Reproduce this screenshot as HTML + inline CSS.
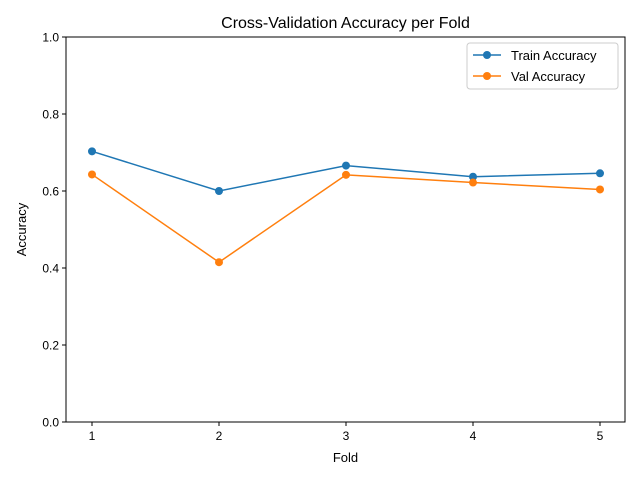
<!DOCTYPE html>
<html><head><meta charset="utf-8"><style>
body{margin:0;background:#fff}
svg{font-family:"Liberation Sans","DejaVu Sans",sans-serif}
</style></head><body>
<svg id="c" width="640" height="480" viewBox="0 0 640 480">
<rect width="640" height="480" fill="#fff"/>
<text x="345.5" y="28" text-anchor="middle" font-size="16">Cross-Validation Accuracy per Fold</text>
<g id="plot"></g>
<text x="345.5" y="462" text-anchor="middle" font-size="13">Fold</text>
<text transform="translate(26,229.5) rotate(-90)" text-anchor="middle" font-size="13">Accuracy</text>
<g>
<rect x="467" y="43" width="151" height="46" rx="3" fill="#fff" stroke="#ccc"/>
<line x1="473" y1="55" x2="501" y2="55" stroke="#1f77b4" stroke-width="1.5"/><circle cx="487" cy="55" r="4" fill="#1f77b4"/>
<text x="511" y="60" font-size="13">Train Accuracy</text>
<line x1="473" y1="76" x2="501" y2="76" stroke="#ff7f0e" stroke-width="1.5"/><circle cx="487" cy="76" r="4" fill="#ff7f0e"/>
<text x="511" y="81" font-size="13">Val Accuracy</text>
</g>
</svg>
<script>
const folds=[1,2,3,4,5];
const trainAcc=[0.703,0.600,0.666,0.637,0.646];
const valAcc=[0.643,0.415,0.642,0.622,0.604];
const yTicks=[0.0,0.2,0.4,0.6,0.8,1.0];
const NS="http://www.w3.org/2000/svg";
const L=66,R=625,T=37,B=422;
const xs=f=>92+(f-1)*127;
const ys=v=>B-(v)*(B-T);
const g=document.getElementById('plot');
function mk(t,a){const e=document.createElementNS(NS,t);for(const k in a)e.setAttribute(k,a[k]);g.appendChild(e);return e;}
yTicks.forEach(v=>{
 const y=ys(v);
 const tk=mk('line',{x1:L-4,y1:y,x2:L,y2:y,stroke:'#000'});
 
 
 const t=mk('text',{x:L-7,y:y+4.5,'text-anchor':'end','font-size':12});
 t.textContent=v.toFixed(1);
 
 
});
folds.forEach(f=>{
 const x=xs(f);
 const tk=mk('line',{x1:x,y1:B,x2:x,y2:B+4,stroke:'#000'});
 
 
 const t=mk('text',{x:x,y:B+18,'text-anchor':'middle','font-size':12});
 t.textContent=f;
 
 
});
function series(vals,col,name){
 const p=mk('polyline',{points:vals.map((v,i)=>xs(folds[i])+','+ys(v)).join(' '),fill:'none',stroke:col,'stroke-width':1.5});
 
 
 vals.forEach((v,i)=>{
  const c=mk('circle',{cx:xs(folds[i]),cy:ys(v),r:4,fill:col});
  
  
 });
}
series(trainAcc,'#1f77b4','train');
series(valAcc,'#ff7f0e','val');
const fr=mk('rect',{x:L,y:T,width:R-L,height:B-T,fill:'none',stroke:'#000','stroke-width':1});


</script>
</body></html>
